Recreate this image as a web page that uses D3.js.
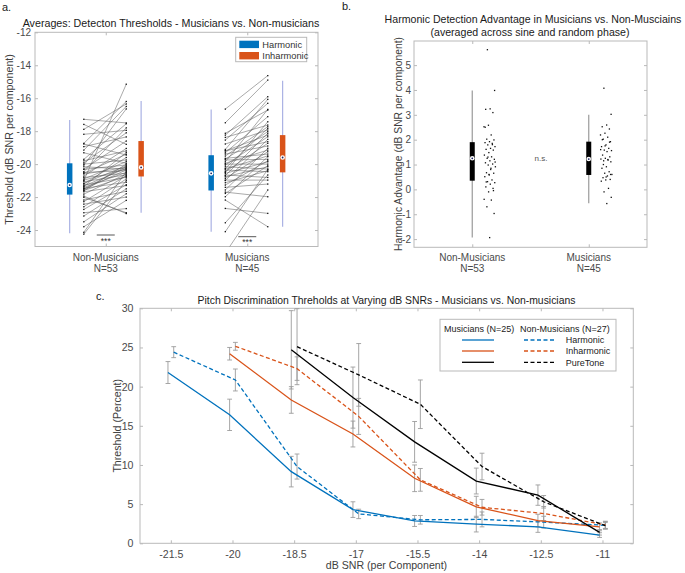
<!DOCTYPE html>
<html>
<head>
<meta charset="utf-8">
<script src="https://cdn.jsdelivr.net/npm/d3@7"></script>
<style>
  body { margin: 0; background: #fff; }
  svg text { font-family: "Liberation Sans", Arial, Helvetica, sans-serif; }
</style>
</head>
<body>
<svg id="fig" width="685" height="573"></svg>
<script>
// ---------- data ----------
const groups = ['Non-Musicians', 'Musicians'];
const groupN = ['N=53', 'N=45'];

// a. detection thresholds, one pair per listener (harmonic -> inharmonic)
const nmHarmonic = [-17.28,-17.59,-17.89,-18.19,-18.74,-18.78,-18.94,-19.15,-19.31,-19.71,-19.80,-19.92,-20.0,-20.06,-20.16,-20.3,-20.32,-20.46,-20.5,-20.56,-20.60,-20.73,-20.81,-20.9,-20.97,-21.0,-21.07,-21.17,-21.2,-21.27,-21.33,-21.35,-21.41,-21.47,-21.5,-21.53,-21.6,-21.62,-21.68,-21.82,-21.94,-22.02,-22.18,-22.28,-22.43,-22.59,-22.75,-22.95,-23.15,-23.50,-23.80,-24.14,-24.25];
const nmInharmonic = [-17.5,-18.8,-16.35,-17.95,-16.2,-19.45,-18.35,-16.5,-19.95,-17.55,-19.2,-18.1,-19.75,-16.65,-20.3,-18.6,-20.05,-17.8,-20.4,-19.4,-20.2,-19.05,-20.55,-19.85,-20.3,-15.15,-20.65,-20.1,-19.6,-20.8,-20.25,-19.3,-20.5,-21.1,-20.15,-20.35,-20.75,-20.0,-21.3,-20.6,-23.0,-22.95,-21.65,-20.7,-22.0,-20.9,-21.25,-22.7,-21.5,-21.8,-22.2,-20.45,-21.0];
const musHarmonic = [-16.66,-17.49,-18.13,-18.24,-18.38,-18.54,-18.78,-19.11,-19.19,-19.2,-19.31,-19.39,-19.51,-19.65,-19.7,-19.75,-19.86,-19.95,-20.0,-20.06,-20.16,-20.26,-20.3,-20.36,-20.46,-20.5,-20.56,-20.66,-20.7,-20.77,-20.87,-20.97,-21.0,-21.13,-21.27,-21.41,-21.57,-21.7,-21.78,-21.98,-22.18,-22.69,-23.56,-24.1,-25.4];
const musInharmonic = [-14.63,-14.9,-16.72,-15.91,-17.63,-16.31,-17.93,-16.07,-18.24,-18.64,-17.12,-18.9,-17.73,-19.39,-18.03,-19.71,-16.68,-19.15,-20.0,-18.34,-20.3,-17.83,-19.5,-20.46,-18.74,-17.43,-19.86,-20.81,-18.13,-20.16,-19.25,-20.97,-18.5,-20.4,-19.8,-21.21,-19.04,-21.98,-20.1,-19.55,-23.8,-22.99,-20.66,-20.32,-21.57];

// box summaries: [low whisker, q1, median, q3, high whisker]
const boxNmHarmonic = [-24.2, -21.85, -21.27, -19.95, -17.33];
const boxNmInharmonic = [-22.95, -20.75, -20.2, -18.6, -16.17];
const boxMusHarmonic = [-24.1, -21.6, -20.56, -19.46, -16.68];
const boxMusInharmonic = [-23.8, -20.5, -19.6, -18.24, -14.94];

// b. harmonic advantage per listener
const nmAdvantage = [5.62,3.98,3.24,3.22,3.09,2.58,2.52,2.19,2.02,1.99,1.92,1.88,1.85,1.79,1.72,1.65,1.61,1.58,1.48,1.38,1.31,1.25,1.21,1.15,1.07,1.02,0.98,0.91,0.85,0.67,0.65,0.58,0.51,0.38,0.31,0.27,0.21,0.10,0.04,-0.10,-0.40,-0.43,-0.70,-0.97,-1.94,2.5,1.8,1.3,1.1,0.8,0.3,-0.05,0.6];
const musAdvantage = [4.07,3.02,2.59,2.52,2.43,2.26,2.19,2.10,2.02,1.92,1.79,1.72,1.65,1.58,1.56,1.52,1.38,1.31,1.25,1.22,1.18,1.15,1.11,0.91,0.85,0.71,0.65,0.60,0.54,0.47,0.40,0.38,0.33,0.04,-0.10,-0.32,-0.57,2.0,1.9,1.75,1.6,1.2,1.0,0.6,0.5];
const boxNmAdvantage = [-1.94, 0.35, 1.25, 1.9, 3.98];
const boxMusAdvantage = [-0.56, 0.58, 1.22, 1.92, 3.0];

// c. pitch discrimination thresholds (percent) with error bars
const snrLevels = [-21.5, -20, -18.5, -17, -15.5, -14, -12.5, -11];
const musHarm     = [21.8, 16.4, 9.15, 4.3, 2.85, 2.45, 2.1, 1.05];
const musHarmErr  = [1.4, 2.0, 1.95, 1.0, 0.7, 1.0, 0.7, 0.3];
const nonHarm     = [24.4, 20.85, 9.8, 3.75, 3.0, 3.05, 2.7, 2.3];
const nonHarmErr  = [0.7, 1.4, 1.6, 0.6, 0.55, 0.95, 0.75, 0.5];
const musInh      = [null, 24.2, 18.3, 13.95, 8.3, 4.65, 2.9, 2.1];
const musInhErr   = [null, 0.8, 1.7, 1.65, 1.7, 1.35, 0.8, 0.5];
const nonInh      = [null, 25.15, 22.3, 16.2, 8.1, 4.6, 3.8, 2.35];
const nonInhErr   = [null, 0.5, 1.5, 2.3, 1.45, 1.0, 0.9, 0.45];
const musPure     = [null, null, 24.7, 18.6, 12.95, 7.95, 6.15, 1.4];
const musPureErr  = [null, null, 5.0, 3.9, 2.6, 1.65, 1.3, 0.35];
const nonPure     = [null, null, 25.1, 21.5, 17.75, 9.8, 5.3, 2.25];
const nonPureErr  = [null, null, 4.85, 4.0, 3.1, 1.7, 0.8, 0.4];

// ---------- helpers ----------
const svg = d3.select('#fig');
const FRAME = '#b9b9b9';
const TICKTXT = '#4a4a4a';
const BLUE = '#0072BD';
const ORANGE = '#D95319';
const WHISK = '#aab2e4';

function matlabAxes(g, x, y, o) {
  const [x0, x1] = x.range();
  const [yb, yt] = y.range();
  const tl = 3;
  g.append('g').attr('transform', `translate(${x0},0)`)
    .call(d3.axisLeft(y).tickValues(o.yTicks).tickSize(-tl).tickPadding(o.yPad).tickFormat(d => String(d)));
  g.append('g').attr('transform', `translate(${x1},0)`)
    .call(d3.axisRight(y).tickValues(o.yTicks).tickSize(-tl).tickFormat(''));
  g.append('g').attr('transform', `translate(0,${yb})`)
    .call(d3.axisBottom(x).tickValues(o.xTicks).tickSize(-tl).tickPadding(o.xPad || 6)
      .tickFormat(o.xFormat || (() => '')));
  g.append('g').attr('transform', `translate(0,${yt})`)
    .call(d3.axisTop(x).tickValues(o.xTicks).tickSize(-tl).tickFormat(''));
  g.selectAll('.domain').remove();
  g.selectAll('.tick line').attr('stroke', FRAME);
  g.selectAll('.tick text').attr('fill', TICKTXT).attr('font-size', o.fs)
    .style('font-family', '"Liberation Sans", Arial, sans-serif');
  g.append('rect').attr('x', x0).attr('y', yt).attr('width', x1 - x0).attr('height', yb - yt)
    .attr('fill', 'none').attr('stroke', FRAME).attr('stroke-width', 1);
}

function catLabels(g, x, yBase) {
  groups.forEach((name, i) => {
    g.append('text').attr('x', x(i + 1)).attr('y', yBase).attr('text-anchor', 'middle')
      .attr('font-size', 10).attr('fill', TICKTXT).text(name);
    g.append('text').attr('x', x(i + 1)).attr('y', yBase + 11).attr('text-anchor', 'middle')
      .attr('font-size', 10).attr('fill', TICKTXT).text(groupN[i]);
  });
}

function compactBox(g, cx, y, stats, fill, whisk, w) {
  g.append('line').attr('x1', cx).attr('x2', cx).attr('y1', y(stats[4])).attr('y2', y(stats[0]))
    .attr('stroke', whisk).attr('stroke-width', 1.2);
  g.append('rect').attr('x', cx - w / 2).attr('width', w)
    .attr('y', y(stats[3])).attr('height', y(stats[1]) - y(stats[3])).attr('fill', fill);
  g.append('circle').attr('cx', cx).attr('cy', y(stats[2])).attr('r', 2.3).attr('fill', '#fff');
  g.append('circle').attr('cx', cx).attr('cy', y(stats[2])).attr('r', 0.9).attr('fill', '#1c2260');
}

function label(g, txt, x, y, size, extra) {
  const t = g.append('text').attr('x', x).attr('y', y).attr('font-size', size).attr('fill', '#1a1a1a').text(txt);
  if (extra) extra(t);
  return t;
}

// ---------- panel a ----------
const gA = svg.append('g');
const xA = d3.scaleLinear().domain([0.5, 2.5]).range([35, 318]);
const yA = d3.scaleLinear().domain([-25, -12]).range([246.5, 32.3]);

svg.append('clipPath').attr('id', 'clipA').append('rect')
  .attr('x', 35).attr('y', 32.3).attr('width', 283).attr('height', 214.2);

matlabAxes(gA, xA, yA, { yTicks: d3.range(-24, -11, 2), xTicks: [1, 2], yPad: 4, fs: 10 });
catLabels(gA, xA, 260.8);

const pairSets = [[nmHarmonic, nmInharmonic], [musHarmonic, musInharmonic]];
const boxSets = [[boxNmHarmonic, boxNmInharmonic], [boxMusHarmonic, boxMusInharmonic]];
const pairs = gA.append('g').attr('clip-path', 'url(#clipA)');
pairSets.forEach(([h, inh], gi) => {
  const c = gi + 1;
  const xl = xA(c - 0.155), xr = xA(c + 0.145);
  const data = h.map((v, i) => [v, inh[i]]);
  pairs.selectAll(null).data(data).enter().append('line')
    .attr('x1', xl).attr('x2', xr).attr('y1', d => yA(d[0])).attr('y2', d => yA(d[1]))
    .attr('stroke', '#555').attr('stroke-width', 0.5);
  pairs.selectAll(null).data(h).enter().append('rect')
    .attr('x', xl - 0.65).attr('y', d => yA(d) - 0.65).attr('width', 1.3).attr('height', 1.3).attr('fill', '#111');
  pairs.selectAll(null).data(inh).enter().append('rect')
    .attr('x', xr - 0.65).attr('y', d => yA(d) - 0.65).attr('width', 1.3).attr('height', 1.3).attr('fill', '#111');
  compactBox(gA, xA(c - 0.255), yA, boxSets[gi][0], BLUE, WHISK, 5.5);
  compactBox(gA, xA(c + 0.25), yA, boxSets[gi][1], ORANGE, WHISK, 5.5);
  // significance marker
  const ys = gi === 0 ? 235 : 236.7;
  gA.append('line').attr('x1', xA(c) - 9).attr('x2', xA(c) + 9).attr('y1', ys).attr('y2', ys)
    .attr('stroke', '#444').attr('stroke-width', 0.9);
  gA.append('text').attr('x', xA(c)).attr('y', ys + 8.5).attr('text-anchor', 'middle')
    .attr('font-size', 8.5).attr('fill', '#333').text('***');
});

// legend a
const legA = gA.append('g');
legA.append('rect').attr('x', 235.7).attr('y', 37.3).attr('width', 71).attr('height', 24.4)
  .attr('fill', '#fff').attr('stroke', FRAME);
[['Harmonic', BLUE, 40.7], ['Inharmonic', ORANGE, 52]].forEach(([t, col, y0]) => {
  legA.append('rect').attr('x', 239.3).attr('y', y0).attr('width', 19.7).attr('height', 7.4).attr('fill', col);
  legA.append('text').attr('x', 262.3).attr('y', y0 + 7.4).attr('font-size', 9.3).attr('fill', '#333').text(t);
});

label(svg, 'a.', 2, 10.5, 11);
label(svg, 'Averages: Detecton Thresholds - Musicians vs. Non-musicians', 171, 26.7, 10.7,
  t => t.attr('text-anchor', 'middle'));
svg.append('text').attr('transform', 'translate(9.5,139.4) rotate(-90)').attr('text-anchor', 'middle')
  .attr('dy', '0.35em').attr('font-size', 10.7).attr('fill', '#404040').text('Threshold (dB SNR per component)');

// ---------- panel b ----------
const gB = svg.append('g');
const xB = d3.scaleLinear().domain([0.5, 2.5]).range([414, 647]);
const yB = d3.scaleLinear().domain([-2.33, 5.97]).range([247.3, 41]);
matlabAxes(gB, xB, yB, { yTicks: d3.range(-2, 6, 1), xTicks: [1, 2], yPad: 3, fs: 10 });
catLabels(gB, xB, 261);

[[nmAdvantage, boxNmAdvantage], [musAdvantage, boxMusAdvantage]].forEach(([vals, box], gi) => {
  const c = gi + 1;
  compactBox(gB, xB(c), yB, box, '#000', '#9a9a9a', 5);
  gB.selectAll(null).data(vals).enter().append('rect')
    .attr('x', (d, i) => xB(c + 0.1 + 0.1 * ((i * 0.618034 + 0.3) % 1)) - 0.65)
    .attr('y', d => yB(d) - 0.65).attr('width', 1.3).attr('height', 1.3).attr('fill', '#111');
});
gB.append('text').attr('x', xB(1.59)).attr('y', 160.5).attr('text-anchor', 'middle')
  .attr('font-size', 8).attr('fill', '#555').text('n.s.');

label(svg, 'b.', 342, 10, 11);
label(svg, 'Harmonic Detection Advantage in Musicians vs. Non-Musciains', 533, 22.5, 10.6,
  t => t.attr('text-anchor', 'middle'));
label(svg, '(averaged across sine and random phase)', 530, 36, 10.6, t => t.attr('text-anchor', 'middle'));
svg.append('text').attr('transform', 'translate(398.5,144) rotate(-90)').attr('text-anchor', 'middle')
  .attr('dy', '0.35em').attr('font-size', 10.3).attr('fill', '#404040')
  .text('Harmonic Advantage (dB SNR per component)');

// ---------- panel c ----------
const gC = svg.append('g');
const xC = d3.scaleLinear().domain([-22.25, -10.25]).range([140, 633.3]);
const yC = d3.scaleLinear().domain([0, 30]).range([543.3, 308.3]);
matlabAxes(gC, xC, yC, {
  yTicks: d3.range(0, 31, 5), xTicks: snrLevels, yPad: 6.5, xPad: 6.7, fs: 10.6,
  xFormat: d => String(d)
});

const series = [
  { v: musHarm, e: musHarmErr, col: BLUE, dash: null, off: -0.07 },
  { v: nonHarm, e: nonHarmErr, col: BLUE, dash: '4,2.5', off: 0.07 },
  { v: musInh, e: musInhErr, col: ORANGE, dash: null, off: -0.07 },
  { v: nonInh, e: nonInhErr, col: ORANGE, dash: '4,2.5', off: 0.07 },
  { v: musPure, e: musPureErr, col: '#000', dash: null, off: -0.07 },
  { v: nonPure, e: nonPureErr, col: '#000', dash: '4,2.5', off: 0.07 }
];

const errG = gC.append('g');
series.forEach(s => {
  const pts = snrLevels.map((x, i) => ({ x: x + s.off, y: s.v[i], e: s.e[i] })).filter(p => p.y != null);
  pts.forEach(p => {
    const cx = xC(p.x), yt = yC(p.y + p.e), yb = yC(p.y - p.e);
    errG.append('line').attr('x1', cx).attr('x2', cx).attr('y1', yt).attr('y2', yb);
    errG.append('line').attr('x1', cx - 2.4).attr('x2', cx + 2.4).attr('y1', yt).attr('y2', yt);
    errG.append('line').attr('x1', cx - 2.4).attr('x2', cx + 2.4).attr('y1', yb).attr('y2', yb);
  });
  s.pts = pts;
});
errG.selectAll('line').attr('stroke', '#9c9c9c').attr('stroke-width', 0.9);

const lineGen = d3.line().x(p => xC(p.x)).y(p => yC(p.y));
series.forEach(s => {
  gC.append('path').datum(s.pts).attr('d', lineGen).attr('fill', 'none')
    .attr('stroke', s.col).attr('stroke-width', 1.3)
    .attr('stroke-dasharray', s.dash);
});

// legend c
const legC = gC.append('g');
legC.append('rect').attr('x', 440).attr('y', 319.3).attr('width', 176).attr('height', 51.7)
  .attr('fill', '#fff').attr('stroke', FRAME);
legC.append('text').attr('x', 444).attr('y', 331.5).attr('font-size', 9).attr('fill', '#222').text('Musicians (N=25)');
legC.append('text').attr('x', 520).attr('y', 331.5).attr('font-size', 9).attr('fill', '#222').text('Non-Musicians (N=27)');
[['Harmonic', BLUE, 340], ['Inharmonic', ORANGE, 351], ['PureTone', '#000', 362.3]].forEach(([t, col, yy]) => {
  legC.append('line').attr('x1', 462).attr('x2', 494).attr('y1', yy).attr('y2', yy)
    .attr('stroke', col).attr('stroke-width', 1.3);
  legC.append('line').attr('x1', 524).attr('x2', 555).attr('y1', yy).attr('y2', yy)
    .attr('stroke', col).attr('stroke-width', 1.3).attr('stroke-dasharray', '4,2.5');
  legC.append('text').attr('x', 565.7).attr('y', yy + 3.3).attr('font-size', 9).attr('fill', '#222').text(t);
});

label(svg, 'c.', 96, 300, 11);
label(svg, 'Pitch Discrimination Threholds at Varying dB SNRs - Musicians vs. Non-musicians', 386.5, 304, 10.4,
  t => t.attr('text-anchor', 'middle'));
svg.append('text').attr('transform', 'translate(117,425.8) rotate(-90)').attr('text-anchor', 'middle')
  .attr('dy', '0.35em').attr('font-size', 10.6).attr('fill', '#404040').text('Threshold (Percent)');
svg.append('text').attr('x', 386.5).attr('y', 569).attr('text-anchor', 'middle')
  .attr('font-size', 10.6).attr('fill', '#404040').text('dB SNR (per Component)');
</script>
</body>
</html>
